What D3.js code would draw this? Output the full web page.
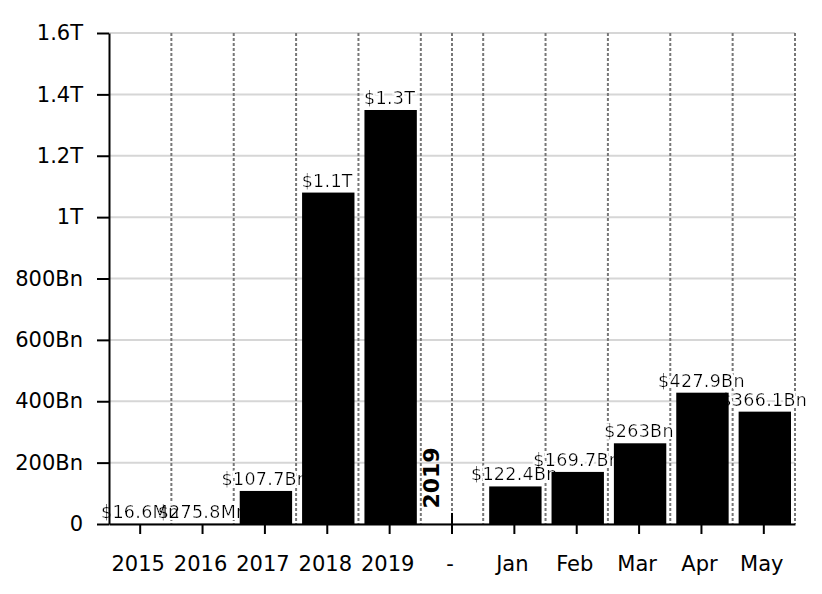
<!DOCTYPE html>
<html>
<head>
<meta charset="utf-8">
<script src="https://cdn.jsdelivr.net/npm/d3@7"></script>
<style>
body { margin:0; background:#fff; }
text { font-family: Verdana, "DejaVu Sans", sans-serif; }
</style>
</head>
<body>
<script>
// Categories (yearly totals, separator, 2019 months)
const categories = ["2015","2016","2017","2018","2019","-","Jan","Feb","Mar","Apr","May"];
// Values in dollars (separator "-" carries the small marker height)
const values = [16.6e6, 275.8e6, 107.7e9, 1.08e12, 1.3491e12, 36e9, 122.4e9, 169.7e9, 263e9, 427.9e9, 366.1e9];
const yTicks = [0, 200e9, 400e9, 600e9, 800e9, 1e12, 1.2e12, 1.4e12, 1.6e12];
const groupLabel = "2019";

const width = 822;
const height = 594;
const margin = {top:33, right:27, bottom:70, left:109};

const data = categories.map(function(c, i){ return {cat:c, value:values[i]}; });
const labelled = data.filter(function(d){ return d.cat !== "-"; });

const svg = d3.select("body")
.append("svg")
.attr("width", width)
.attr("height", height);

// white halo under the whole label group
const filter = svg.append("defs").append("filter")
.attr("id", "halo")
.attr("x", "-10%").attr("y", "-20%")
.attr("width", "120%").attr("height", "140%");
filter.append("feMorphology")
.attr("in", "SourceAlpha").attr("operator", "dilate").attr("radius", 1.5).attr("result", "fat");
filter.append("feFlood").attr("flood-color", "#fff").attr("result", "white");
filter.append("feComposite").attr("in", "white").attr("in2", "fat").attr("operator", "in").attr("result", "bg");
const merge = filter.append("feMerge");
merge.append("feMergeNode").attr("in", "bg");
merge.append("feMergeNode").attr("in", "SourceGraphic");

const xScale = d3.scaleBand()
.domain(categories)
.range([margin.left, width - margin.right])
.paddingInner(0.16)
.paddingOuter(0.08);

const yScale = d3.scaleLinear()
.domain([0, 1.6e12])
.range([height - margin.bottom, margin.top]);

const step = xScale.step();

function trim(n){
return n.toFixed(1).replace(/\.0$/, "");
}
function tickFmt(v){
if (v === 0) return "0";
if (v >= 1e12) return trim(v/1e12) + "T";
return trim(v/1e9) + "Bn";
}
function labelFmt(v){
if (v >= 1e12) return "$" + trim(v/1e12) + "T";
if (v >= 1e9) return "$" + trim(v/1e9) + "Bn";
return "$" + trim(v/1e6) + "Mn";
}

// horizontal grid
svg.append("g")
.selectAll("line")
.data(yTicks)
.enter()
.append("line")
.attr("x1", margin.left)
.attr("x2", width - margin.right)
.attr("y1", function(d){ return yScale(d); })
.attr("y2", function(d){ return yScale(d); })
.attr("stroke", "#d6d6d6")
.attr("stroke-width", 2);

// dotted vertical lines at band edges + middle of separator
const bounds = categories.map(function(c){ return xScale(c) + xScale.bandwidth() + (step - xScale.bandwidth())/2; });
bounds.push(xScale("-") + xScale.bandwidth()/2);

svg.append("g")
.selectAll("line")
.data(bounds)
.enter()
.append("line")
.attr("x1", function(d){ return d; })
.attr("x2", function(d){ return d; })
.attr("y1", yScale(1.6e12))
.attr("y2", yScale(0))
.attr("stroke", "#777")
.attr("stroke-width", 2)
.attr("stroke-dasharray", "3,2");

// value labels (under the bars)
svg.append("g")
.attr("filter", "url(#halo)")
.selectAll("text")
.data(labelled)
.enter()
.append("text")
.attr("x", function(d){ return xScale(d.cat) + xScale.bandwidth()/2; })
.attr("y", function(d){ return yScale(d.value) - 6; })
.attr("text-anchor", "middle")
.attr("font-size", "17.5px")
.attr("letter-spacing", "0.3px")
.attr("fill", "#000")
.text(function(d){ return labelFmt(d.value); });

// bars
svg.append("g")
.selectAll("rect")
.data(data)
.enter()
.append("rect")
.attr("x", function(d){
return d.cat === "-" ? xScale(d.cat) + xScale.bandwidth()/2 - 1 : xScale(d.cat) + 1;
})
.attr("width", function(d){ return d.cat === "-" ? 2 : xScale.bandwidth(); })
.attr("y", function(d){ return yScale(d.value); })
.attr("height", function(d){ return yScale(0) - yScale(d.value); })
.attr("fill", "#000");

// rotated group label
svg.append("text")
.attr("transform", "translate(" + (xScale("-") + 13) + "," + yScale(150e9) + ") rotate(-90)")
.attr("text-anchor", "middle")
.attr("font-size", "22px")
.attr("font-weight", "bold")
.text(groupLabel);

// axes
const xAxis = d3.axisBottom(xScale)
.tickSizeInner(10)
.tickSizeOuter(0)
.tickPadding(22);

const yAxis = d3.axisLeft(yScale)
.tickValues(yTicks)
.tickFormat(tickFmt)
.tickSizeInner(12)
.tickSizeOuter(0)
.tickPadding(14);

const gx = svg.append("g")
.attr("transform", "translate(0," + (height - margin.bottom) + ")")
.call(xAxis);
gx.selectAll("text").attr("font-size", "21px").attr("dx", "-2").attr("fill", "#000");

const gy = svg.append("g")
.attr("transform", "translate(" + margin.left + ",0)")
.call(yAxis);
gy.selectAll("text").attr("font-size", "21px").attr("fill", "#000");

svg.selectAll(".domain, .tick line").attr("stroke", "#000").attr("stroke-width", 2);
</script>
</body>
</html>
